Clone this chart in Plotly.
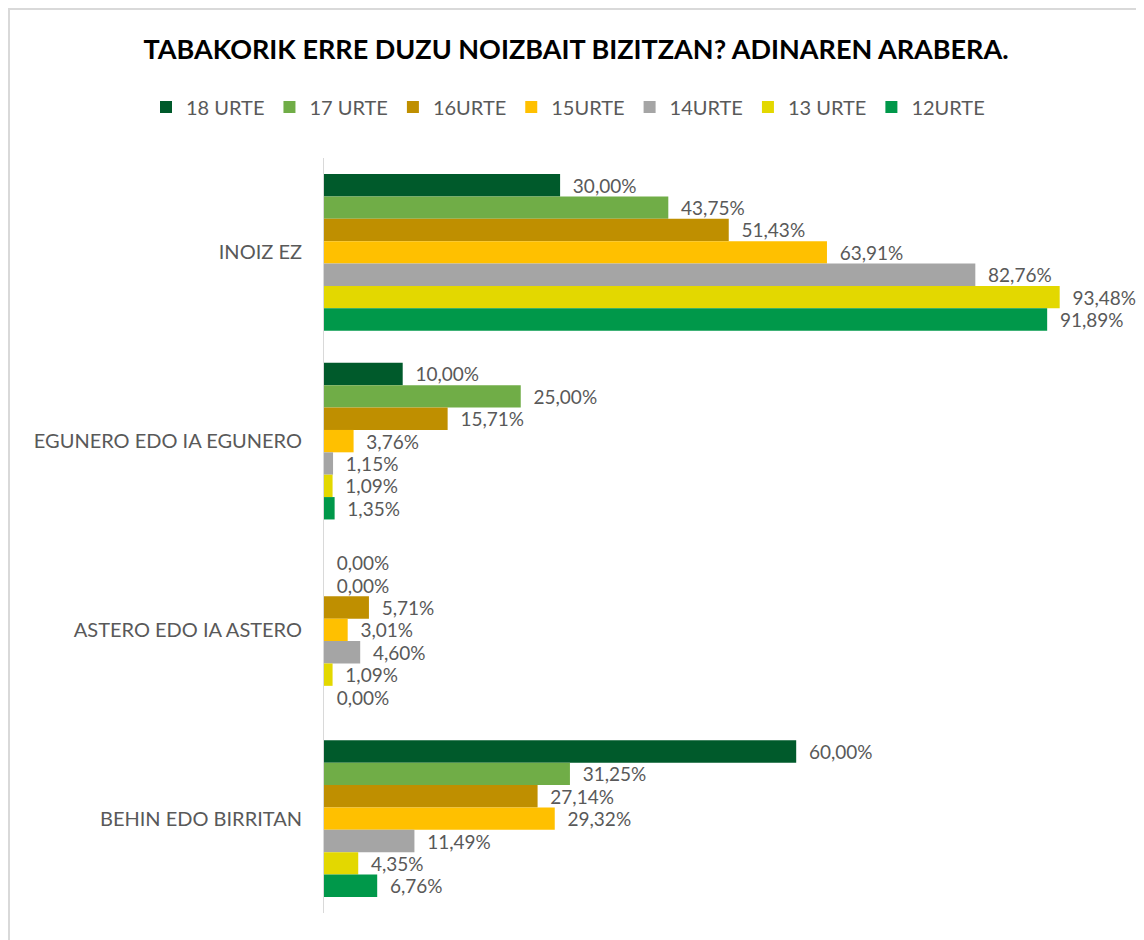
import plotly.graph_objects as go

categories = ["INOIZ EZ", "EGUNERO EDO IA EGUNERO", "ASTERO EDO IA ASTERO", "BEHIN EDO BIRRITAN"]
series_names = ["18 URTE", "17 URTE", "16URTE", "15URTE", "14URTE", "13 URTE", "12URTE"]
urte18 = [30.00, 10.00, 0.00, 60.00]
urte17 = [43.75, 25.00, 0.00, 31.25]
urte16 = [51.43, 15.71, 5.71, 27.14]
urte15 = [63.91, 3.76, 3.01, 29.32]
urte14 = [82.76, 1.15, 4.60, 11.49]
urte13 = [93.48, 1.09, 1.09, 4.35]
urte12 = [91.89, 1.35, 0.00, 6.76]
series_values = [urte18, urte17, urte16, urte15, urte14, urte13, urte12]
colors = ["#005A2B", "#70AD47", "#BF8F00", "#FFC000", "#A5A5A5", "#E3D800", "#00984A"]

FONT = "Lato"
W, H = 1136, 932
L, R, T, B = 316, 33, 150, 27
PW, PH = W - L - R, H - T - B

fig = go.Figure()
for name, vals, col in zip(series_names, series_values, colors):
    labels = ["\u00a0\u00a0" + f"{v:.2f}%".replace(".", ",") for v in vals]
    fig.add_trace(go.Bar(
        name=name, y=categories, x=vals, orientation="h",
        marker=dict(color=col, line=dict(width=0)),
        text=labels, textposition="outside", cliponaxis=False,
        constraintext="none",
        textfont=dict(family=FONT, size=19, color="#595959"),
        hoverinfo="skip",
    ))

fig.update_layout(
    width=W, height=H,
    barmode="group", bargap=0.17, bargroupgap=0,
    paper_bgcolor="white", plot_bgcolor="white",
    margin=dict(l=L, r=R, t=T, b=B),
    title=dict(text="<b>TABAKORIK ERRE DUZU NOIZBAIT BIZITZAN? ADINAREN ARABERA.</b>",
               x=(576 - 8) / W, xref="container", xanchor="center",
               y=1 - 42 / H, yref="container", yanchor="middle",
               font=dict(family=FONT, size=27, color="#000000")),
    legend=dict(orientation="h", x=(146 - 8 - L) / PW, xref="paper", xanchor="left",
                y=1 + (T - 99) / PH, yref="paper", yanchor="middle", traceorder="normal",
                font=dict(family=FONT, size=20, color="#595959"),
                itemwidth=30, itemsizing="constant"),
    showlegend=True,
    xaxis=dict(range=[0, 100], visible=False, showgrid=False, zeroline=False),
    yaxis=dict(autorange="reversed", showline=True, linecolor="#D9D9D9", linewidth=1,
               ticks="", ticklabelstandoff=17, showgrid=False,
               tickfont=dict(family=FONT, size=20, color="#595959")),
    font=dict(family=FONT),
    shapes=[dict(type="rect", xref="paper", yref="paper",
                 x0=(1 - L) / PW, x1=(1133 - L) / PW, y0=-40 / PH, y1=1 + (T - 1) / PH,
                 line=dict(color="#D9D9D9", width=2), fillcolor="rgba(0,0,0,0)", layer="below")],
)

fig.write_html("out.html")
